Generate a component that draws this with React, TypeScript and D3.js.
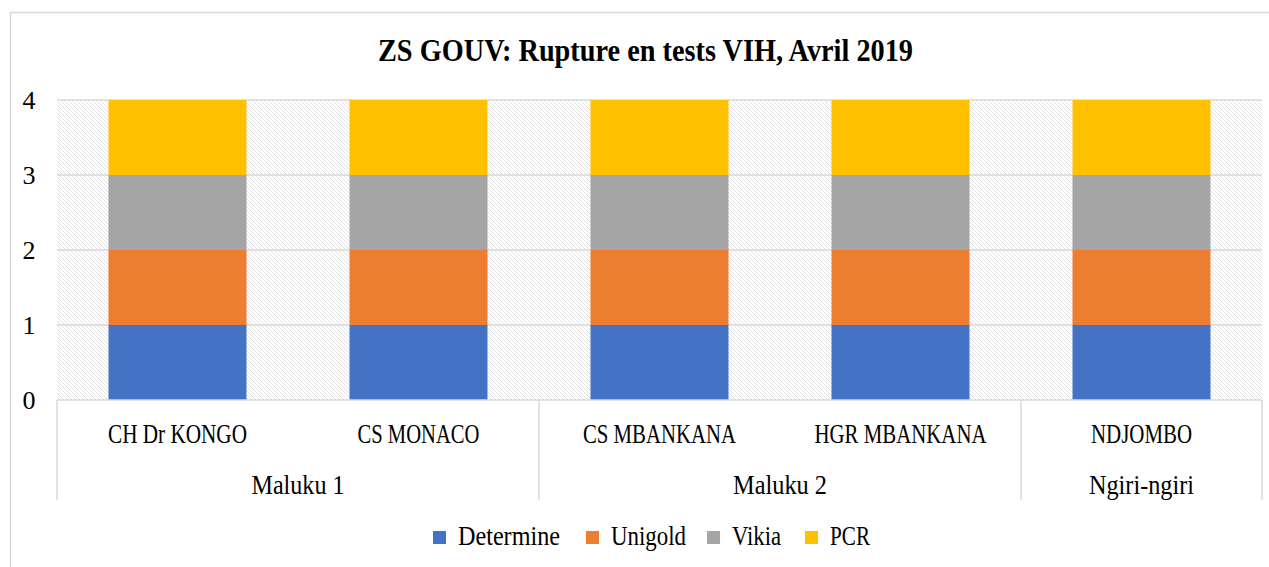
import React from "react";
import * as d3 from "d3";

const sites = ["CH Dr KONGO", "CS MONACO", "CS MBANKANA", "HGR MBANKANA", "NDJOMBO"];
const siteGroups = ["Maluku 1", "Maluku 1", "Maluku 2", "Maluku 2", "Ngiri-ngiri"];
const groups = ["Maluku 1", "Maluku 2", "Ngiri-ngiri"];
const seriesNames = ["Determine", "Unigold", "Vikia", "PCR"];
const determine = [1, 1, 1, 1, 1];
const unigold = [1, 1, 1, 1, 1];
const vikia = [1, 1, 1, 1, 1];
const pcr = [1, 1, 1, 1, 1];
const yTicks = [0, 1, 2, 3, 4];
const colors = ["#4472C4", "#ED7D31", "#A5A5A5", "#FFC000"];

const W = 1269;
const H = 567;
const FONT = "'Liberation Serif', 'DejaVu Serif', serif";

const siteWidths: Record<string, number> = {
  "CH Dr KONGO": 139,
  "CS MONACO": 122,
  "CS MBANKANA": 153,
  "HGR MBANKANA": 172,
  "NDJOMBO": 101,
};
const groupWidths: Record<string, number> = {
  "Maluku 1": 93,
  "Maluku 2": 94,
  "Ngiri-ngiri": 105,
};
const legendWidths = [102, 75, 49, 40];
const legendX = [433, 586, 707, 805];

export default function App() {
  const left = 57;
  const right = 1262;
  const top = 100;
  const bottom = 400;
  const x = d3
    .scaleBand<string>()
    .domain(sites)
    .range([left, right])
    .paddingInner(0.4274)
    .paddingOuter(0.2137);
  const y = d3.scaleLinear().domain([0, 4]).range([bottom, top]);

  const table = sites.map((s, i) => ({
    site: s,
    Determine: determine[i],
    Unigold: unigold[i],
    Vikia: vikia[i],
    PCR: pcr[i],
  }));
  const stacked = d3.stack<any>().keys(seriesNames)(table);

  const step = x.step();
  const groupExtents = groups.map((g) => {
    const idx = siteGroups.map((sg, i) => (sg === g ? i : -1)).filter((i) => i >= 0);
    const x0 = left + step * idx[0];
    const x1 = left + step * (idx[idx.length - 1] + 1);
    return { g, x0, x1 };
  });
  const boundaries = [left, ...groupExtents.map((e) => e.x1)];
  const axisBottom = 500;
  const gridColor = "#d9d9d9";

  return (
    <svg
      width={W}
      height={H}
      style={{ position: "absolute", left: 0, top: 0, background: "#fff" }}
    >
      <defs>
        <pattern id="hatch" patternUnits="userSpaceOnUse" width={4} height={4}>
          <rect width={4} height={4} fill="#fff" />
          <path d="M-1,-1 L5,5 M-1,3 L1,5 M3,-1 L5,1" stroke="#e2e2e2" strokeWidth={1} />
        </pattern>
      </defs>
      <line x1={10.5} y1={12.5} x2={W} y2={12.5} stroke={gridColor} strokeWidth={1.5} />
      <line x1={10.5} y1={12.5} x2={10.5} y2={H} stroke={gridColor} strokeWidth={1.5} />

      <text
        x={645.5}
        y={61}
        textAnchor="middle"
        fontFamily={FONT}
        fontWeight="bold"
        fontSize={32}
        textLength={535}
        lengthAdjust="spacingAndGlyphs"
        fill="#000"
      >
        ZS GOUV: Rupture en tests VIH, Avril 2019
      </text>

      <rect x={left} y={top} width={right - left} height={bottom - top} fill="url(#hatch)" />
      {yTicks.slice(1).map((t) => (
        <line key={t} x1={left} x2={right} y1={y(t)} y2={y(t)} stroke={gridColor} strokeWidth={1.5} />
      ))}

      {stacked.map((layer, si) => (
        <g key={seriesNames[si]} fill={colors[si]}>
          {layer.map((d, i) => (
            <rect
              key={i}
              x={x(sites[i])}
              width={x.bandwidth()}
              y={y(d[1])}
              height={y(d[0]) - y(d[1])}
            />
          ))}
        </g>
      ))}

      {yTicks.map((t) => (
        <text
          key={t}
          x={29}
          y={y(t) + 9}
          textAnchor="middle"
          fontFamily={FONT}
          fontSize={26}
          fill="#000"
        >
          {t}
        </text>
      ))}

      <line x1={left} x2={right} y1={bottom} y2={bottom} stroke={gridColor} strokeWidth={1.5} />
      {boundaries.map((bx, i) => (
        <line key={i} x1={bx} x2={bx} y1={bottom} y2={axisBottom} stroke={gridColor} strokeWidth={1.5} />
      ))}
      {sites.map((s) => (
        <text
          key={s}
          x={(x(s) as number) + x.bandwidth() / 2}
          y={443}
          textAnchor="middle"
          fontFamily={FONT}
          fontSize={27}
          textLength={siteWidths[s]}
          lengthAdjust="spacingAndGlyphs"
          fill="#000"
        >
          {s}
        </text>
      ))}
      {groupExtents.map((e) => (
        <text
          key={e.g}
          x={(e.x0 + e.x1) / 2}
          y={494}
          textAnchor="middle"
          fontFamily={FONT}
          fontSize={27}
          textLength={groupWidths[e.g]}
          lengthAdjust="spacingAndGlyphs"
          fill="#000"
        >
          {e.g}
        </text>
      ))}

      {seriesNames.map((n, i) => (
        <g key={n}>
          <rect x={legendX[i]} y={531} width={13} height={13} fill={colors[i]} />
          <text
            x={legendX[i] + 25}
            y={545}
            fontFamily={FONT}
            fontSize={27}
            textLength={legendWidths[i]}
            lengthAdjust="spacingAndGlyphs"
            fill="#000"
          >
            {n}
          </text>
        </g>
      ))}
    </svg>
  );
}
